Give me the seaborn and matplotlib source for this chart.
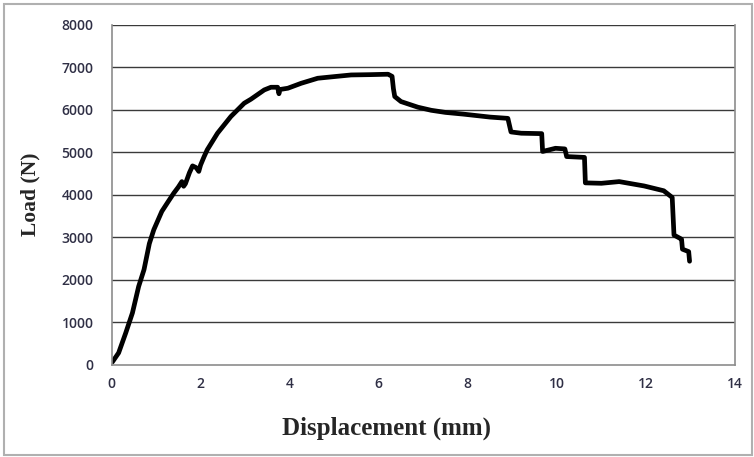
import matplotlib
matplotlib.use("Agg")
import matplotlib.pyplot as plt
import seaborn as sns
import pandas as pd
from matplotlib.patches import Rectangle

displacement = [0.00, 0.02, 0.16, 0.32, 0.47, 0.61, 0.73, 0.85, 0.95, 1.13, 1.28, 1.40, 1.50,
                1.58, 1.62, 1.66, 1.75, 1.82, 1.90, 1.96, 2.00, 2.08, 2.15, 2.38, 2.68, 2.98,
                3.13, 3.43, 3.58, 3.73, 3.76, 3.78, 3.96, 4.26, 4.63, 5.00, 5.38, 5.80, 6.21,
                6.30, 6.33, 6.36, 6.50, 6.88, 7.18, 7.50, 7.90, 8.50, 8.90, 8.97, 9.20, 9.66,
                9.68, 9.97, 10.18, 10.22, 10.62, 10.64, 11.00, 11.40, 11.96, 12.40, 12.59,
                12.63, 12.77, 12.80, 12.82, 12.96, 12.98]
load = [80, 60, 274, 745, 1216, 1840, 2235, 2850, 3176, 3608, 3850, 4040, 4180,
        4310, 4200, 4260, 4520, 4680, 4640, 4550, 4700, 4900, 5060, 5450, 5843, 6157,
        6251, 6470, 6533, 6533, 6380, 6480, 6510, 6627, 6745, 6784, 6823, 6830, 6840,
        6790, 6500, 6314, 6196, 6063, 5990, 5940, 5900, 5830, 5800, 5480, 5450, 5440,
        5020, 5095, 5080, 4900, 4880, 4280, 4270, 4310, 4207, 4094, 3936,
        3050, 2970, 2950, 2717, 2660, 2433]

x_ticks = [0, 2, 4, 6, 8, 10, 12, 14]
y_ticks = [0, 1000, 2000, 3000, 4000, 5000, 6000, 7000, 8000]

df = pd.DataFrame({"Displacement (mm)": displacement, "Load (N)": load})

sns.set_style("white")
fig = plt.figure(figsize=(7.54, 4.57), dpi=100)
ax = fig.add_axes([111.5 / 754, (457 - 364.5) / 457, (735 - 111.5) / 754, (364.5 - 25) / 457])

sns.lineplot(data=df, x="Displacement (mm)", y="Load (N)", ax=ax, color="black",
             linewidth=3.4, sort=False, estimator=None, solid_joinstyle="round",
             solid_capstyle="round")

ax.set_xlim(0, 14)
ax.set_ylim(0, 8000)
ax.set_xticks(x_ticks)
ax.set_yticks(y_ticks)
ax.set_xticklabels([str(t) for t in x_ticks])
ax.set_yticklabels([str(t) for t in y_ticks])
for t in y_ticks[1:]:
    ax.axhline(t, color="#3a3a3a", linewidth=1.0, zorder=0)
ax.grid(False)

for s in ["left", "right", "bottom"]:
    ax.spines[s].set_visible(True)
    ax.spines[s].set_color("#8c8c8c")
    ax.spines[s].set_linewidth(1.2)
ax.spines["top"].set_visible(False)

ax.tick_params(axis="both", length=0, labelsize=10, labelcolor="#2f2f45")
ax.tick_params(axis="y", pad=13)
ax.tick_params(axis="x", pad=9)
for lab in ax.get_xticklabels() + ax.get_yticklabels():
    lab.set_fontfamily("Open Sans")
    lab.set_fontweight("semibold")

ax.set_xlabel("Displacement (mm)", fontfamily="Liberation Serif", fontweight="bold",
              fontsize=18, va="center")
ax.xaxis.set_label_coords((387 - 111.5) / 623.5, (364.5 - 428) / 339.5)
ax.set_ylabel("Load (N)", fontfamily="Liberation Serif", fontweight="bold",
              fontsize=15.5, va="center")
ax.yaxis.set_label_coords((30 - 111.5) / 623.5, 0.5)

fig.patches.append(Rectangle((4 / 754, 2 / 457), 748 / 754, 451 / 457,
                             transform=fig.transFigure, fill=False,
                             edgecolor="#b0b0b0", linewidth=1.5))

fig.savefig("out.png", dpi=100)
